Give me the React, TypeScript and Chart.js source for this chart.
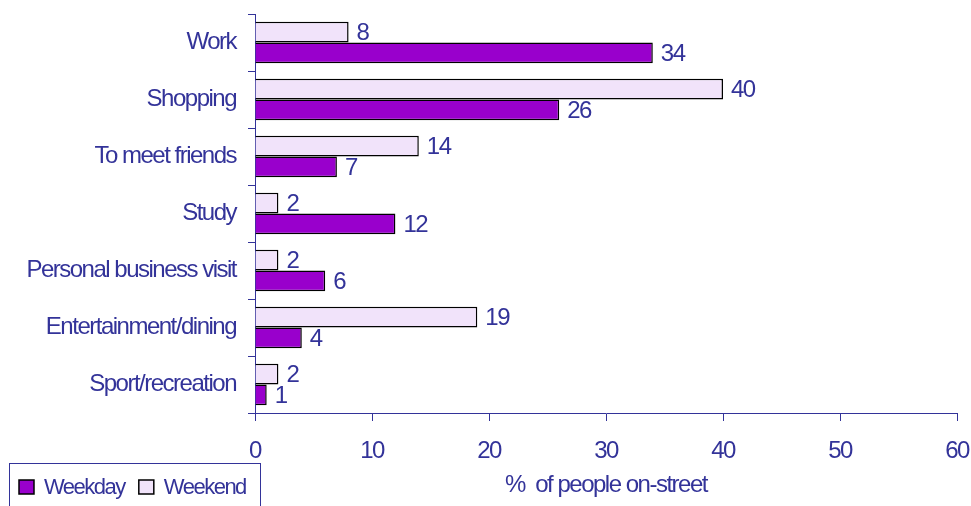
import React, { useEffect, useRef } from "react";
import { Chart, registerables } from "chart.js";

Chart.register(...registerables);

const categories = [
  "Work",
  "Shopping",
  "To meet friends",
  "Study",
  "Personal business visit",
  "Entertainment/dining",
  "Sport/recreation",
];
const weekday = [34, 26, 7, 12, 6, 4, 1];
const weekend = [8, 40, 14, 2, 2, 19, 2];
const xMin = 0;
const xMax = 60;
const xStep = 10;
const xTitle = "%  of people on-street";

const TEXT = "#333399";
const FONT = "'Liberation Sans', Arial, sans-serif";
const FS = 24;
const LEGEND_FS = 22;
const SPACING = "-1.5px";
const WEEKDAY_COLOR = "#9900CC";
const WEEKEND_COLOR = "#F1E3FA";

const condensedText = {
  id: "condensedText",
  beforeDraw(chart: any) {
    chart.ctx.letterSpacing = SPACING;
  },
};

const valueLabels = {
  id: "valueLabels",
  afterDatasetsDraw(chart: any) {
    const ctx = chart.ctx;
    ctx.save();
    ctx.letterSpacing = SPACING;
    ctx.font = `${FS}px ${FONT}`;
    ctx.fillStyle = TEXT;
    ctx.textAlign = "left";
    ctx.textBaseline = "middle";
    chart.data.datasets.forEach((ds: any, i: number) => {
      const meta = chart.getDatasetMeta(i);
      meta.data.forEach((el: any, j: number) => {
        ctx.fillText(String(ds.data[j]), el.x + 8, el.y + 1);
      });
    });
    ctx.restore();
  },
};

const boxedLegend = {
  id: "boxedLegend",
  afterDraw(chart: any) {
    const ctx = chart.ctx;
    ctx.save();
    ctx.letterSpacing = SPACING;
    ctx.strokeStyle = TEXT;
    ctx.lineWidth = 1;
    ctx.strokeRect(9.5, 463.5, 251, 50);
    const items = [
      { label: "Weekday", color: WEEKDAY_COLOR },
      { label: "Weekend", color: WEEKEND_COLOR },
    ];
    ctx.font = `${LEGEND_FS}px ${FONT}`;
    ctx.textBaseline = "middle";
    ctx.textAlign = "left";
    let x = 19;
    const cy = 487;
    items.forEach((it) => {
      ctx.fillStyle = it.color;
      ctx.fillRect(x, cy - 7, 15, 14);
      ctx.strokeStyle = "#000";
      ctx.lineWidth = 1.5;
      ctx.strokeRect(x, cy - 7, 15, 14);
      ctx.fillStyle = TEXT;
      ctx.fillText(it.label, x + 25, cy + 1);
      x += 25 + ctx.measureText(it.label).width + 14;
    });
    ctx.restore();
  },
};

export default function App() {
  const ref = useRef<HTMLCanvasElement | null>(null);

  useEffect(() => {
    if (!ref.current) return;
    const chart = new Chart(ref.current, {
      type: "bar",
      data: {
        labels: categories,
        datasets: [
          {
            label: "Weekend",
            data: weekend,
            backgroundColor: WEEKEND_COLOR,
            borderColor: "#000",
            borderWidth: 1.5,
            categoryPercentage: 0.73,
            barPercentage: 1,
          },
          {
            label: "Weekday",
            data: weekday,
            backgroundColor: WEEKDAY_COLOR,
            borderColor: "#000",
            borderWidth: 1.5,
            categoryPercentage: 0.73,
            barPercentage: 1,
          },
        ],
      },
      options: {
        indexAxis: "y",
        responsive: false,
        animation: false,
        layout: { padding: { left: 0, right: 14, top: 14, bottom: 0 } },
        plugins: {
          legend: { display: false },
          tooltip: { enabled: false },
        },
        scales: {
          x: {
            type: "linear",
            position: "bottom",
            min: xMin,
            max: xMax,
            ticks: {
              stepSize: xStep,
              color: TEXT,
              font: { family: FONT, size: FS },
              padding: 16,
            },
            grid: {
              drawOnChartArea: false,
              drawTicks: true,
              tickLength: 8,
              color: TEXT,
            },
            border: { color: TEXT, width: 1 },
            title: {
              display: true,
              text: xTitle,
              color: TEXT,
              font: { family: FONT, size: FS },
              padding: { top: 0, bottom: 6 },
            },
            afterFit: (s: any) => {
              s.height = 93;
              s.paddingLeft = 0;
              s.paddingRight = 0;
            },
          },
          y: {
            type: "category",
            ticks: {
              color: TEXT,
              font: { family: FONT, size: FS },
              padding: 12,
            },
            grid: {
              offset: true,
              drawOnChartArea: false,
              drawTicks: true,
              tickLength: 7,
              color: TEXT,
            },
            border: { color: TEXT, width: 1 },
            afterFit: (s: any) => {
              s.width = 255;
              s.paddingTop = 0;
              s.paddingBottom = 0;
            },
          },
        },
      },
      plugins: [condensedText, valueLabels, boxedLegend],
    } as any);
    return () => chart.destroy();
  }, []);

  return (
    <div style={{ position: "absolute", left: 0, top: 0, width: 971, height: 506, background: "#fff" }}>
      <canvas ref={ref} width={971} height={506} style={{ display: "block" }} />
    </div>
  );
}
